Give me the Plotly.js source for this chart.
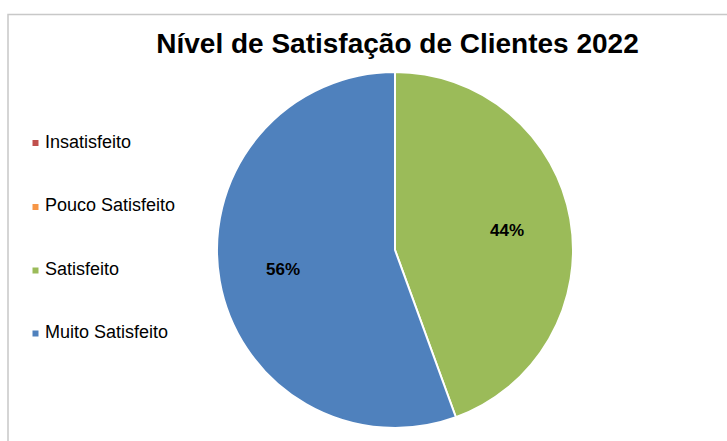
<!DOCTYPE html>
<html>
<head>
<meta charset="utf-8">
<script src="https://cdn.plot.ly/plotly-3.0.1.min.js"></script>
<style>html,body{margin:0;padding:0;background:#fff;}#chart{width:727px;height:441px;}</style>
</head>
<body>
<div id="chart"></div>
<script>
const categories = ["Insatisfeito", "Pouco Satisfeito", "Satisfeito", "Muito Satisfeito"];
const values = [0, 0, 4, 5];
const colors = ["#C0504D", "#F79646", "#9BBB59", "#4F81BD"];
const chartTitle = "Nível de Satisfação de Clientes 2022";

const W = 727, H = 441;
const FONT = "Liberation Sans, Arial, sans-serif";
const pieDomain = { x: [217 / W, 573 / W], y: [(H - 428) / H, (H - 72) / H] };
const pie = {
  type: "pie",
  labels: categories,
  values: values,
  sort: false,
  direction: "clockwise",
  rotation: 0,
  marker: { colors: colors, line: { color: "#FFFFFF", width: 2 } },
  textinfo: "none",
  showlegend: false,
  hoverinfo: "label+percent",
  domain: pieDomain
};

// Legend built from the category arrays
const legendY = [141.5, 205.5, 269, 332];
const annotations = categories.map((c, i) => ({
  xref: "paper", yref: "paper",
  x: 43 / W, y: 1 - legendY[i] / H,
  xanchor: "left", yanchor: "middle",
  text: c, showarrow: false,
  font: { family: FONT, size: 18, color: "#000000" }
}));

// Percent labels placed along each slice's bisector (computed from the values)
const total = values.reduce((a, b) => a + b, 0);
const cx = (pieDomain.x[0] + pieDomain.x[1]) / 2 * W;
const cy = (1 - (pieDomain.y[0] + pieDomain.y[1]) / 2) * H;
const R = (pieDomain.x[1] - pieDomain.x[0]) * W / 2;
let cum = 0;
values.forEach((v, i) => {
  const frac = v / total;
  if (v > 0) {
    const mid = (cum + frac / 2) * 2 * Math.PI;
    const r = 0.64 * R;
    const px = cx + r * Math.sin(mid);
    const py = cy - r * Math.cos(mid);
    annotations.push({
      xref: "paper", yref: "paper",
      x: px / W, y: 1 - py / H,
      xanchor: "center", yanchor: "middle",
      text: "<b>" + Math.round(frac * 100) + "%</b>", showarrow: false,
      font: { family: FONT, size: 17, color: "#000000" }
    });
  }
  cum += frac;
});

const shapes = categories.map((c, i) => ({
  type: "rect", xref: "paper", yref: "paper",
  x0: 32.5 / W, x1: 38.5 / W,
  y0: 1 - (legendY[i] + 4.5) / H, y1: 1 - (legendY[i] - 1.5) / H,
  fillcolor: colors[i], line: { width: 0 }
}));
shapes.push({
  type: "rect", xref: "paper", yref: "paper",
  x0: 8 / W, x1: 740 / W, y0: -0.1, y1: 1 - 14.5 / H,
  line: { color: "#C8C8C8", width: 1.5 }, fillcolor: "rgba(0,0,0,0)", layer: "below"
});

const layout = {
  width: W, height: H,
  margin: { l: 0, r: 0, t: 0, b: 0 },
  paper_bgcolor: "#FFFFFF",
  title: {
    text: "<b>" + chartTitle + "</b>",
    font: { family: FONT, size: 28, color: "#000000" },
    x: 397.5 / W, xanchor: "center", xref: "paper",
    y: 1 - 43 / H, yanchor: "middle", yref: "container"
  },
  annotations: annotations,
  shapes: shapes,
  showlegend: false
};

Plotly.newPlot("chart", [pie], layout, { displayModeBar: false, staticPlot: true });
</script>
</body>
</html>
